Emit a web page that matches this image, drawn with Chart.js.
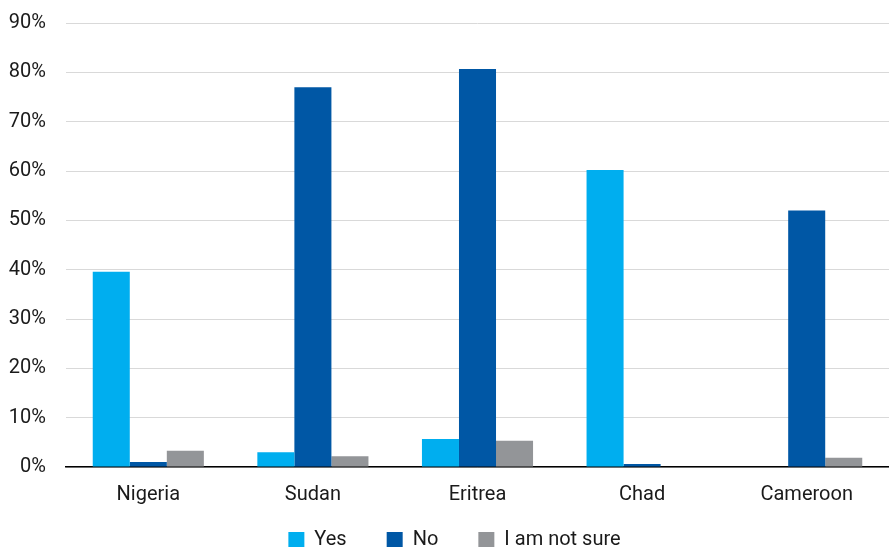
<!DOCTYPE html>
<html>
<head>
<meta charset="utf-8">
<script src="https://cdn.jsdelivr.net/npm/chart.js@4"></script>
<style>
  html, body { margin: 0; padding: 0; background: #fff; overflow: hidden; }
  #wrap { width: 889px; height: 558px; }
</style>
</head>
<body>
<div id="wrap"><canvas id="surveyChart"></canvas></div>
<script>
  const countries = ['Nigeria', 'Sudan', 'Eritrea', 'Chad', 'Cameroon'];
  const yesValues = [39.6, 3.0, 5.7, 60.2, 0];
  const noValues = [1.0, 77.0, 80.7, 0.6, 52.0];
  const notSureValues = [3.3, 2.2, 5.3, 0, 1.9];
  const yTicks = [0, 10, 20, 30, 40, 50, 60, 70, 80, 90];

  Chart.defaults.font.family = 'Roboto, "Liberation Sans", sans-serif';
  Chart.defaults.color = '#1a1a1a';

  // legend keeps wide gaps between items but takes less height above them
  const LEGEND_TRIM = 35;
  const LEGEND_LIFT = 33;
  const LEGEND_SHIFT_X = 10;
  const legendTighten = {
    id: 'legendTighten',
    beforeLayout(chart) {
      const lg = chart.legend;
      if (!lg || lg._tight) return;
      lg._tight = true;
      const fit = lg.fit.bind(lg);
      lg.fit = function () { fit(); this.height -= LEGEND_TRIM; };
      const drawItems = lg._draw.bind(lg);
      lg._draw = function () {
        const c = this.ctx;
        c.save();
        c.translate(LEGEND_SHIFT_X, -LEGEND_LIFT);
        drawItems();
        c.restore();
      };
    }
  };

  const ctx = document.getElementById('surveyChart').getContext('2d');
  const surveyChart = new Chart(ctx, {
    type: 'bar',
    data: {
      labels: countries,
      datasets: [
        { label: 'Yes', data: yesValues, backgroundColor: '#00aeef' },
        { label: 'No', data: noValues, backgroundColor: '#0057a5' },
        { label: 'I am not sure', data: notSureValues, backgroundColor: '#939598' }
      ]
    },
    plugins: [legendTighten],
    options: {
      responsive: true,
      maintainAspectRatio: false,
      animation: false,
      layout: { padding: 0 },
      datasets: {
        bar: { barPercentage: 1, categoryPercentage: 0.675 }
      },
      plugins: {
        tooltip: { enabled: false },
        legend: {
          position: 'bottom',
          labels: {
            boxWidth: 16,
            boxHeight: 16,
            padding: 40,
            font: { size: 20 },
            color: '#1a1a1a'
          }
        }
      },
      scales: {
        x: {
          grid: { display: false, drawTicks: false },
          border: { color: '#000', width: 1.5 },
          ticks: { font: { size: 20 }, padding: 16 }
        },
        y: {
          min: 0,
          max: 90,
          afterBuildTicks: (scale) => { scale.ticks = yTicks.map(v => ({ value: v })); },
          afterFit: (scale) => { scale.width = 66; scale.paddingTop = 23; },
          grid: { color: '#d9d9d9', lineWidth: 1, drawTicks: false },
          border: { display: false },
          ticks: {
            font: { size: 20 },
            padding: 20,
            callback: (v) => v + '%'
          }
        }
      }
    }
  });
</script>
</body>
</html>
